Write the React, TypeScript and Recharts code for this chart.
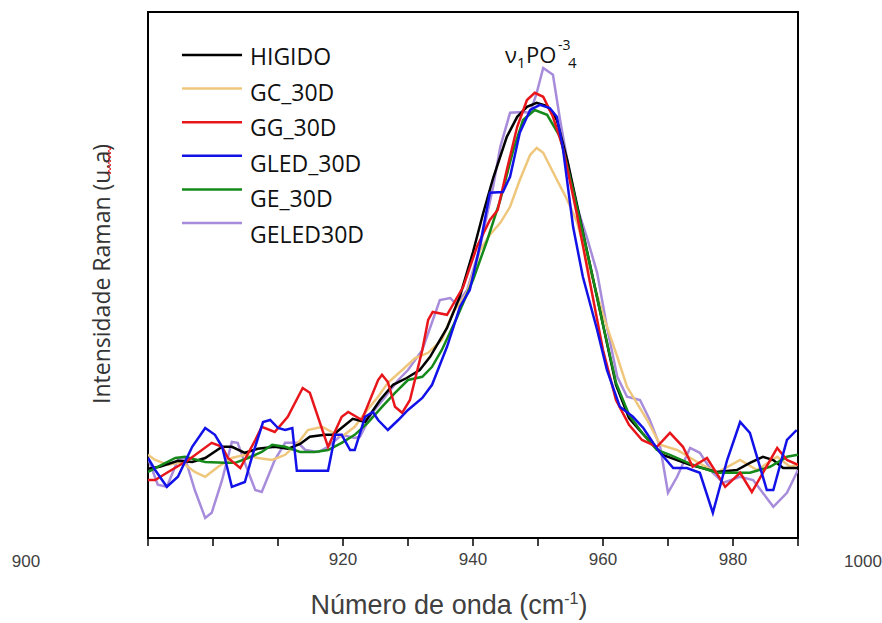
import React from 'react';
import { LineChart, Line, XAxis, YAxis, ReferenceArea } from 'recharts';

// [wavenumber (cm-1), intensity (u.a)]
const higido: [number, number][] = [
  [890.0, 17.8], [891.8, 18.3], [894.6, 19.8], [896.8, 19.5], [898.8, 20.5], [901.4, 23.3],
  [902.9, 23.3], [904.9, 21.8], [906.9, 22.8], [909.5, 23.3], [911.5, 22.8], [913.4, 24.0],
  [914.9, 25.8], [917.2, 26.3], [918.5, 26.3], [920.0, 28.3], [921.5, 30.3], [923.4, 29.5],
  [925.7, 35.0], [927.7, 38.8], [929.8, 40.5], [931.8, 42.5], [933.4, 45.8], [936.0, 53.0],
  [938.0, 61.0], [940.0, 72.0], [941.5, 81.3], [943.1, 90.5], [945.2, 100.8], [946.8, 105.8],
  [948.3, 108.3], [949.8, 109.3], [951.4, 108.5], [952.9, 105.0], [954.5, 95.0], [956.0, 83.8],
  [958.0, 68.8], [960.0, 53.8], [962.0, 38.8], [964.0, 30.5], [966.0, 26.8], [968.0, 23.3],
  [969.2, 21.3], [973.4, 18.8], [977.5, 17.0], [980.6, 17.5], [982.6, 19.3], [984.6, 20.8],
  [986.2, 20.0], [987.7, 18.0], [990.0, 18.0],
];

const gc30d: [number, number][] = [
  [890.0, 21.3], [891.1, 20.0], [893.1, 18.8], [895.2, 19.5], [897.2, 17.0], [898.8, 15.8],
  [900.8, 18.3], [902.9, 20.5], [904.9, 21.3], [906.9, 20.5], [909.1, 20.0], [911.1, 21.3],
  [913.1, 24.3], [914.6, 27.5], [916.8, 28.3], [918.3, 27.0], [919.8, 25.8], [921.8, 28.3],
  [923.4, 31.8], [925.4, 35.8], [926.9, 39.3], [929.1, 42.5], [931.1, 45.5], [933.1, 46.8],
  [935.2, 50.0], [936.9, 56.8], [939.1, 61.8], [941.1, 72.5], [942.6, 76.3], [944.2, 79.3],
  [945.7, 83.3], [947.2, 90.0], [948.8, 96.3], [949.8, 98.0], [950.8, 96.8], [952.3, 92.0],
  [954.5, 85.0], [956.0, 79.5], [958.0, 67.5], [960.0, 56.3], [962.2, 45.8], [963.7, 38.3],
  [966.8, 30.0], [968.8, 23.8], [971.4, 22.5], [974.5, 19.5], [977.5, 16.8], [981.1, 20.0],
  [983.7, 17.5], [986.8, 20.8], [988.8, 18.3], [990.0, 18.8],
];

const gg30d: [number, number][] = [
  [890.0, 15.0], [891.1, 15.0], [893.1, 17.0], [896.2, 20.0], [899.8, 24.3], [901.4, 23.3],
  [902.3, 20.5], [904.2, 18.0], [906.5, 25.0], [907.5, 28.3], [909.5, 27.0], [911.5, 30.8],
  [913.8, 38.0], [914.9, 36.8], [917.7, 23.3], [919.8, 30.8], [920.8, 32.0], [922.9, 30.0],
  [925.4, 40.0], [926.0, 41.3], [926.9, 39.5], [928.0, 33.3], [929.1, 31.8], [930.3, 35.0],
  [932.2, 47.5], [933.1, 55.0], [933.8, 57.0], [936.0, 56.3], [938.5, 63.3], [940.6, 73.3],
  [942.6, 80.0], [943.8, 82.5], [945.2, 92.5], [946.8, 103.3], [948.3, 110.0], [949.5, 111.8],
  [950.8, 110.8], [952.3, 105.8], [953.8, 98.3], [956.0, 81.3], [958.0, 64.3], [960.0, 47.5],
  [962.0, 35.0], [964.0, 28.8], [966.0, 25.0], [968.3, 23.3], [970.3, 26.8], [972.3, 23.3],
  [973.8, 18.3], [976.0, 20.5], [978.8, 13.3], [981.1, 16.8], [982.9, 12.0], [984.6, 16.8],
  [986.8, 23.0], [988.3, 20.0], [990.0, 18.8],
];

const gled30d: [number, number][] = [
  [890.0, 20.5], [891.1, 17.5], [892.9, 13.3], [894.6, 15.8], [896.8, 23.3], [898.8, 28.0],
  [900.3, 26.3], [901.4, 23.3], [902.9, 13.3], [904.9, 14.5], [906.0, 20.8], [907.7, 29.5],
  [908.8, 30.0], [910.0, 28.0], [911.1, 27.5], [912.2, 28.0], [912.9, 17.3], [917.7, 17.3],
  [918.8, 26.3], [919.8, 26.3], [921.1, 22.5], [921.8, 22.5], [923.4, 30.8], [924.6, 32.0],
  [925.4, 30.0], [926.9, 27.5], [928.5, 30.0], [930.0, 32.5], [932.2, 35.5], [933.7, 38.8],
  [935.2, 45.0], [936.0, 48.3], [938.0, 58.3], [939.5, 62.5], [941.1, 73.8], [942.6, 86.8],
  [944.6, 87.0], [945.7, 90.8], [947.2, 101.8], [948.8, 107.5], [950.3, 108.8], [951.8, 108.0],
  [952.9, 105.8], [953.8, 98.3], [955.4, 78.3], [956.9, 65.8], [959.1, 52.5], [960.6, 42.5],
  [962.6, 33.3], [964.6, 30.8], [966.2, 28.0], [967.7, 24.3], [968.8, 21.8], [970.8, 18.0],
  [972.9, 18.0], [974.9, 16.8], [976.9, 6.8], [979.1, 20.0], [981.1, 29.5], [982.6, 26.8],
  [985.2, 12.5], [986.2, 12.5], [988.3, 25.0], [989.8, 27.5],
];

const ge30d: [number, number][] = [
  [890.0, 17.0], [891.5, 18.3], [894.2, 20.5], [895.7, 20.8], [898.8, 19.5], [901.8, 19.3],
  [903.4, 19.3], [905.4, 20.5], [907.5, 22.0], [909.1, 23.8], [911.1, 23.3], [913.4, 22.0],
  [915.7, 22.0], [917.7, 22.5], [919.8, 24.3], [921.8, 26.3], [923.8, 29.3], [926.0, 33.3],
  [928.0, 36.8], [930.0, 40.0], [932.2, 40.8], [933.7, 43.3], [935.2, 47.5], [937.5, 55.5],
  [940.0, 65.0], [942.2, 75.0], [944.2, 85.0], [946.2, 97.5], [947.7, 105.0], [949.5, 107.5],
  [951.4, 106.3], [953.4, 100.8], [955.4, 87.5], [958.0, 68.8], [960.0, 53.8], [962.0, 39.3],
  [964.0, 31.3], [966.0, 26.8], [968.3, 22.5], [970.3, 21.3], [973.8, 18.8], [977.5, 16.8],
  [982.6, 16.8], [985.7, 18.3], [988.3, 20.8], [990.0, 21.3],
];

const geled30d: [number, number][] = [
  [890.0, 20.5], [891.5, 13.8], [892.9, 13.3], [894.6, 20.0], [895.7, 20.5], [897.2, 12.5],
  [898.8, 5.5], [899.8, 6.8], [901.4, 15.0], [902.9, 24.5], [903.8, 24.3], [904.9, 19.3],
  [906.5, 12.5], [907.5, 12.0], [909.5, 20.0], [911.1, 24.3], [913.1, 24.3], [914.2, 22.5],
  [916.2, 22.0], [917.7, 23.3], [919.8, 26.3], [921.8, 25.5], [922.6, 25.8], [924.5, 31.8],
  [926.5, 35.8], [928.5, 40.0], [930.0, 42.5], [932.2, 47.5], [934.9, 60.0], [936.5, 60.5],
  [937.5, 58.8], [939.1, 62.5], [941.1, 73.3], [943.1, 88.3], [944.2, 98.3], [945.7, 106.8],
  [947.7, 107.0], [948.8, 106.8], [949.8, 111.8], [950.8, 118.0], [952.3, 116.3], [953.4, 105.0],
  [954.5, 95.0], [956.0, 83.3], [957.5, 75.8], [959.1, 66.8], [960.6, 53.3], [962.2, 40.8],
  [963.7, 35.8], [965.7, 35.0], [967.2, 30.0], [968.8, 23.3], [970.0, 11.8], [971.4, 15.8],
  [973.4, 23.0], [974.9, 21.8], [976.9, 16.8], [978.5, 14.3], [981.1, 15.8], [983.1, 15.0],
  [986.2, 8.3], [988.3, 11.8], [990.0, 17.5],
];

const series = [
  { name: 'HIGIDO', color: '#000000', points: higido },
  { name: 'GC_30D', color: '#EFC77C', points: gc30d },
  { name: 'GG_30D', color: '#E8161B', points: gg30d },
  { name: 'GLED_30D', color: '#1212E8', points: gled30d },
  { name: 'GE_30D', color: '#15891A', points: ge30d },
  { name: 'GELED30D', color: '#A88CDC', points: geled30d },
];

// order lines are painted in (last on top)
const drawOrder = ['GELED30D', 'GC_30D', 'HIGIDO', 'GE_30D', 'GG_30D', 'GLED_30D'];

const xDomain: [number, number] = [890, 990];
const yDomain: [number, number] = [0.5, 132];
const xTicks = [890, 900, 910, 920, 930, 940, 950, 960, 970, 980, 990];
const xTickLabels: Record<number, string> = { 920: '920', 940: '940', 960: '960', 980: '980' };

const tickFont = "'Liberation Sans', Arial, sans-serif";
const textFont = "'Open Sans', 'Noto Sans', sans-serif";

const XTick = (props: any) => {
  const { x, y, payload } = props;
  const label = xTickLabels[payload.value];
  if (!label) return <g />;
  return (
    <text x={x} y={y} dy="0.71em" textAnchor="middle" fontSize={17} fontFamily={tickFont} fill="#404040">
      {label}
    </text>
  );
};

const squiggle = (() => {
  let d = 'M 108 147';
  for (let i = 1; i <= 14; i++) d += ` L ${i % 2 ? 111 : 108} ${147 + i * 2}`;
  return d;
})();

export default function App() {
  return (
    <div style={{ position: 'absolute', left: 0, top: 0, width: 882, height: 623, background: '#fff' }}>
      <LineChart width={882} height={623} margin={{ top: 12, right: 84, bottom: 55, left: 148 }}>
        <XAxis
          dataKey="x"
          type="number"
          domain={xDomain}
          ticks={xTicks}
          height={30}
          axisLine={{ stroke: '#000', strokeWidth: 2 }}
          tickLine={{ stroke: '#000', strokeWidth: 1.5 }}
          tickSize={8}
          tickMargin={7}
          tick={<XTick />}
          allowDataOverflow
        />
        <YAxis type="number" domain={yDomain} hide allowDataOverflow />
        {drawOrder.map((name) => {
          const s = series.find((item) => item.name === name)!;
          return (
            <Line
              key={s.name}
              name={s.name}
              data={s.points.map(([x, y]) => ({ x, y }))}
              dataKey="y"
              type="linear"
              stroke={s.color}
              strokeWidth={2.5}
              dot={false}
              activeDot={false}
              isAnimationActive={false}
            />
          );
        })}
        <ReferenceArea
          x1={xDomain[0]}
          x2={xDomain[1]}
          y1={yDomain[0]}
          y2={yDomain[1]}
          fill="none"
          fillOpacity={0}
          stroke="#000"
          strokeWidth={2}
          ifOverflow="visible"
        />
      </LineChart>

      <svg width={882} height={623} style={{ position: 'absolute', left: 0, top: 0, pointerEvents: 'none' }}>
        {/* legend */}
        {series.map((s, i) => (
          <g key={s.name}>
            <line x1={182} x2={242} y1={55 + 33.6 * i} y2={55 + 33.6 * i} stroke={s.color} strokeWidth={2.5} />
            <text x={250} y={65 + 35.6 * i} fontSize={23} fontFamily={textFont} fill="#111">
              {s.name}
            </text>
          </g>
        ))}

        {/* peak annotation */}
        <text fontFamily={textFont} fill="#111">
          <tspan x={505} y={63} fontSize={22}>ν</tspan>
          <tspan x={517} y={68} fontSize={15}>1</tspan>
          <tspan x={526} y={63} fontSize={22}>PO</tspan>
          <tspan x={558} y={50} fontSize={14}>-3</tspan>
        </text>
        <text x={568} y={68} fontSize={15} fontFamily={textFont} fill="#111">4</text>

        {/* stray x labels */}
        <text x={26} y={567} textAnchor="middle" fontSize={17} fontFamily={tickFont} fill="#404040">900</text>
        <text x={863} y={567} textAnchor="middle" fontSize={17} fontFamily={tickFont} fill="#404040">1000</text>

        {/* axis titles */}
        <text x={449} y={614} textAnchor="middle" fontSize={27} fontFamily={tickFont} fill="#404040">
          Número de onda (cm<tspan dy={-10} fontSize={16}>-1</tspan>
          <tspan dy={10}>)</tspan>
        </text>
        <text
          x={101}
          y={274}
          transform="rotate(-90 101 274)"
          textAnchor="middle"
          dominantBaseline="central"
          fontSize={23}
          fontFamily={textFont}
          fill="#333"
        >
          Intensidade Raman (u.a)
        </text>
        <path d={squiggle} fill="none" stroke="#e02020" strokeWidth={1} />
      </svg>
    </div>
  );
}
